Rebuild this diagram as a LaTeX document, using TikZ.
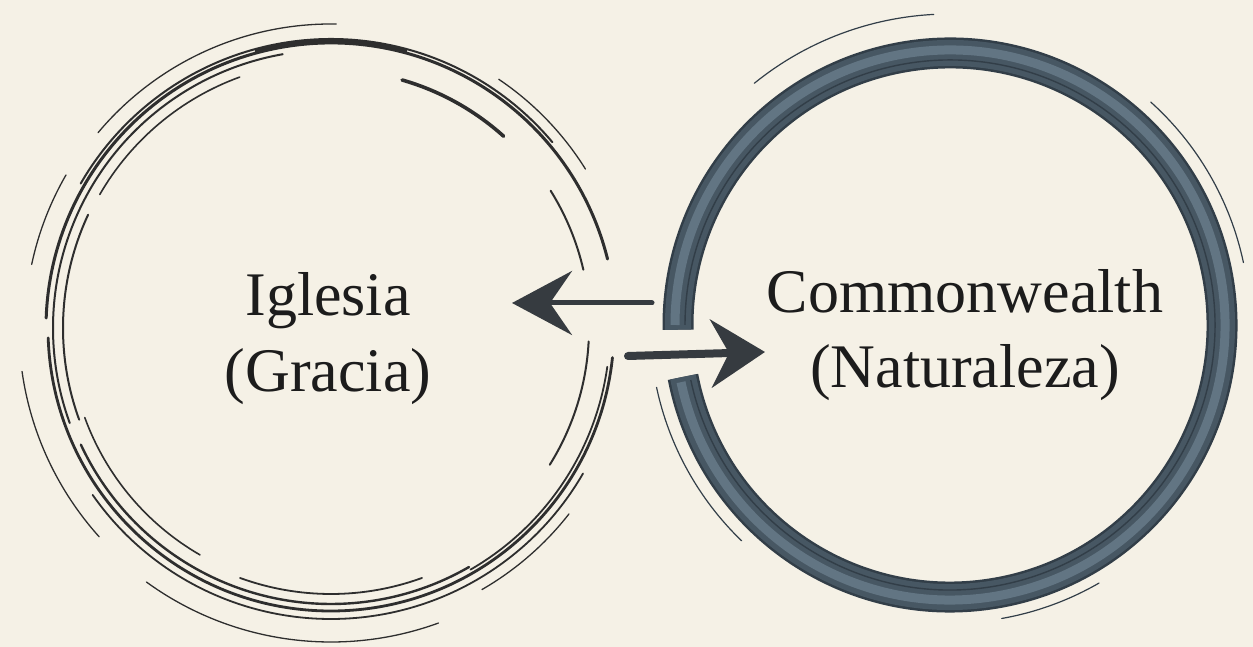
\documentclass[tikz,border=0pt]{standalone}
\usepackage{fontspec}
\setmainfont{Liberation Serif}
\usetikzlibrary{arrows.meta}
\definecolor{paper}{HTML}{F5F1E6}
\definecolor{ink}{HTML}{2E2E2E}
\definecolor{slate}{HTML}{475763}
\definecolor{slatelt}{HTML}{627583}
\definecolor{slatedk}{HTML}{323E48}
\definecolor{txt}{HTML}{1C1C1C}
\definecolor{arrowink}{HTML}{363B40}
\newcommand\skarc[5][ink]{\draw[sk=#2,draw=#1] ([shift={(#3:#5)}]cc) arc[start angle=#3, end angle=#4, radius=#5];}
\begin{document}
\begin{tikzpicture}[x=1pt,y=1pt,
  sk/.style={line cap=round, line width=#1},
  sk/.default=1.5pt,
  lbl/.style={font=\fontsize{62}{76}\selectfont, text=txt, inner sep=0pt, anchor=base},
  arrowline/.style={draw=arrowink, line cap=round}]
\fill[paper] (0,0) rectangle (1253,647);
\useasboundingbox (0,0) rectangle (1253,647);

% ---------- left circle (sketchy strokes)
\coordinate (c1) at (331,319);
\begin{scope}
\coordinate (cc) at (c1);
\skarc{3.0pt}{14}{178}{285}
\skarc{2.8pt}{182}{354}{283}
\skarc{2.0pt}{40}{150}{289}
\skarc{2.0pt}{100}{200}{278}
\skarc{2.4pt}{205}{300}{276}
\skarc{1.8pt}{215}{330}{291}
\skarc{1.8pt}{300}{352}{279}
\skarc{4.0pt}{75}{105}{287}
\skarc{3.6pt}{48}{74}{258}
\skarc{1.6pt}{110}{150}{267}
\skarc{2.0pt}{155}{200}{268}
\skarc{1.6pt}{200}{240}{262}
\skarc{1.8pt}{250}{290}{266}
\skarc{2.0pt}{13}{32}{259}
\skarc{2.0pt}{328}{357}{258}
\skarc{1.3pt}{89}{140}{304}
\skarc{1.3pt}{150}{168}{306}
\skarc{1.3pt}{188}{222}{312}
\skarc{1.3pt}{234}{290}{314}
\skarc{1.3pt}{300}{322}{302}
\skarc{1.3pt}{32}{56}{300}
\end{scope}

% ---------- right circle (slate ring)
\coordinate (c2) at (950,322);
\begin{scope}
\coordinate (cc) at (c2);
\draw[draw=slatedk, line width=31pt] ([shift={(191:272)}]c2) arc[start angle=191, end angle=541, radius=272];
\draw[draw=slate, line width=26pt] ([shift={(191:272)}]c2) arc[start angle=191, end angle=541, radius=272];
\draw[draw=slatelt, line width=9pt] ([shift={(192:275)}]c2) arc[start angle=192, end angle=540, radius=275];
\draw[draw=slatedk, line width=1.4pt] ([shift={(192:265)}]c2) arc[start angle=192, end angle=540, radius=265];
\skarc[slatedk]{1.2pt}{93}{129}{311}
\skarc[slatedk]{1.2pt}{12}{48}{300}
\skarc[slatedk]{1.2pt}{192}{226}{300}
\skarc[slatedk]{1.2pt}{280}{300}{298}
\end{scope}

% ---------- labels
\node[lbl] (igl)  at (328,331) {Iglesia};
\node[lbl] (gra)  at (328,255) {(Gracia)};
\node[lbl] (com)  at (965,334) {Commonwealth};
\node[lbl] (nat)  at (965,259) {(Naturaleza)};

% ---------- arrows
\coordinate (latail) at (652,344);
\coordinate (latip)  at (512,344);
\coordinate (ratail) at (628,291);
\coordinate (ratip)  at (765,295);
\draw[arrowline, line width=5pt, -{Stealth[length=60pt,width=64pt,inset=22pt]}] (latail) -- (latip);
\draw[arrowline, line width=8pt, -{Stealth[length=54pt,width=68pt,inset=18pt]}] (ratail) -- (ratip);
\end{tikzpicture}
\end{document}
